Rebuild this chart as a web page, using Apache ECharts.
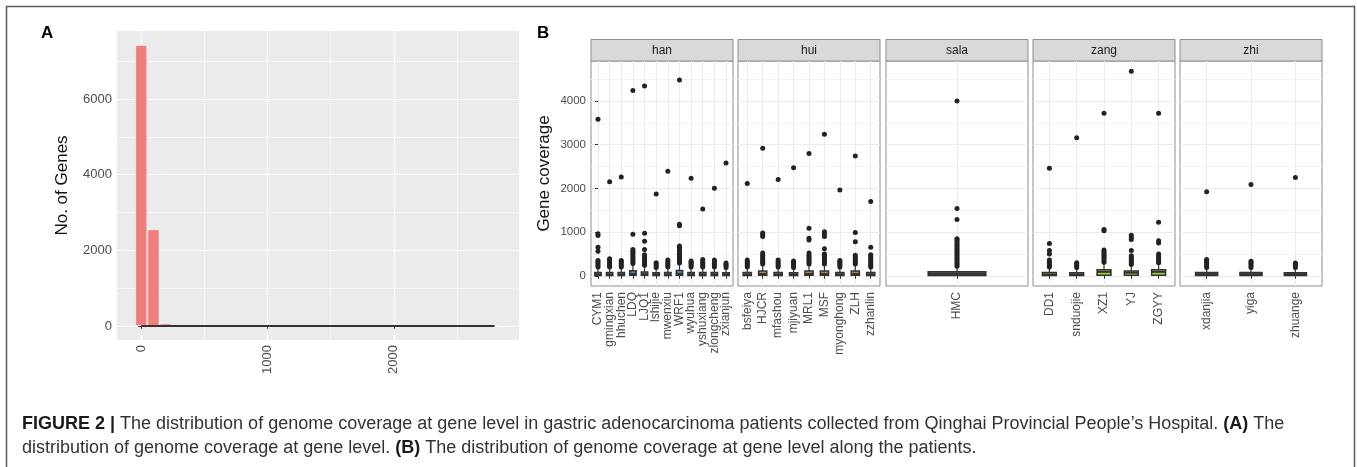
<!DOCTYPE html>
<html><head><meta charset="utf-8">
<script src="https://cdn.jsdelivr.net/npm/echarts@6.0.0/dist/echarts.min.js"></script>
<style>html,body{margin:0;padding:0;background:#fff;}#c{width:1357px;height:467px;}</style>
</head><body><div id="c"></div>
<script>
// ---------- Panel A: histogram ----------
const binCenters = [0, 96.5, 193, 289.5, 386, 482.5, 579, 675.5, 772, 868.5, 965, 1061.5, 1158, 1254.5, 1351,
  1447.5, 1544, 1640.5, 1737, 1833.5, 1930, 2026.5, 2123, 2219.5, 2316, 2412.5, 2509, 2605.5, 2702, 2798.5];
const binCounts = [7424, 2555, 70, 14, 6, 4, 3, 2, 2, 1, 1, 1, 1, 0, 1, 0, 0, 1, 0, 1, 0, 1, 0, 0, 0, 0, 0, 0, 0, 1];
const lineX = [0, 2798.5];
const lineY = [0, 0];
const histXTicks = [0, 1000, 2000];
const histXMinor = [500, 1500, 2500];
const histYTicks = [0, 2000, 4000, 6000];
const histYMinor = [1000, 3000, 5000, 7000];

// ---------- Panel B: boxplots ----------
const facets = ['han', 'hui', 'sala', 'zang', 'zhi'];
const covTicks = [0, 1000, 2000, 3000, 4000];
const covMinor = [500, 1500, 2500, 3500, 4500];

const hanSamples = ['CYM1', 'gmingxian', 'hhuchen', 'LDQ', 'LJQ1', 'lshijie', 'mwenxiu', 'WRF1', 'wyuhua', 'yshuxiang', 'zlongcheng', 'zxianjun'];
const hanBoxes = [[0, 8, 30, 75, 180], [0, 8, 30, 75, 170], [0, 8, 30, 75, 170], [0, 10, 40, 115, 250], [0, 10, 35, 85, 210], [0, 8, 30, 70, 160],
  [0, 8, 30, 75, 170], [0, 12, 45, 120, 260], [0, 8, 30, 75, 170], [0, 8, 30, 75, 170], [0, 8, 30, 75, 170], [0, 8, 30, 70, 160]];
const hanOutliers = [
  [200, 240, 280, 320, 350, 560, 650, 920, 960, 3580],
  [200, 240, 280, 320, 360, 390, 2150],
  [200, 240, 280, 320, 350, 2260],
  [280, 320, 360, 400, 440, 480, 520, 560, 600, 950, 4240],
  [240, 280, 320, 360, 400, 440, 480, 600, 790, 975, 4340],
  [190, 230, 270, 300, 1870],
  [200, 240, 280, 320, 360, 2390],
  [290, 330, 370, 410, 450, 490, 530, 570, 610, 650, 680, 1145, 1180, 4480],
  [200, 240, 280, 310, 340, 2230],
  [200, 240, 280, 320, 370, 1530],
  [200, 240, 280, 320, 360, 2000],
  [190, 230, 260, 290, 2580]];

const huiSamples = ['bsfeiya', 'HJCR', 'mfashou', 'mjiyuan', 'MRL1', 'MSF', 'myonghong', 'ZLH', 'zzhanlin'];
const huiBoxes = [[0, 8, 30, 75, 170], [0, 10, 40, 110, 240], [0, 8, 30, 75, 170], [0, 8, 30, 70, 160], [0, 10, 40, 110, 240],
  [0, 10, 40, 110, 240], [0, 8, 30, 75, 170], [0, 10, 40, 110, 240], [0, 8, 30, 75, 170]];
const huiOutliers = [
  [200, 240, 280, 320, 360, 2110],
  [270, 310, 350, 390, 430, 470, 520, 900, 940, 980, 2920],
  [200, 240, 280, 320, 360, 2200],
  [190, 230, 270, 310, 340, 2470],
  [270, 310, 350, 390, 430, 470, 520, 820, 860, 1090, 2800],
  [270, 310, 350, 390, 430, 470, 500, 616, 900, 960, 1010, 3240],
  [200, 240, 280, 320, 350, 1960],
  [270, 310, 350, 390, 430, 470, 780, 990, 2740],
  [200, 240, 280, 320, 360, 400, 440, 480, 650, 1700]];

const salaSamples = ['HMC'];
const salaBoxes = [[0, 5, 35, 90, 200]];
const salaOutliers = [
  [220, 260, 300, 340, 380, 420, 460, 500, 540, 580, 620, 660, 700, 740, 780, 820, 845, 1290, 1540, 4000]];

const zangSamples = ['DD1', 'snduojie', 'XZ1', 'YJ', 'ZGYY'];
const zangBoxes = [[0, 8, 30, 75, 170], [0, 8, 30, 70, 160], [0, 10, 90, 140, 280], [0, 10, 70, 110, 240], [0, 10, 90, 140, 280]];
const zangOutliers = [
  [200, 240, 280, 320, 360, 500, 580, 740, 2460],
  [190, 230, 270, 300, 3160],
  [310, 350, 390, 430, 470, 510, 550, 590, 1030, 1060, 3720],
  [260, 300, 340, 380, 420, 460, 580, 830, 880, 930, 4680],
  [300, 340, 380, 420, 460, 500, 750, 800, 1225, 3720]];

const zhiSamples = ['xdanjia', 'yiga', 'zhuange'];
const zhiBoxes = [[0, 8, 30, 75, 170], [0, 8, 30, 75, 170], [0, 8, 30, 70, 160]];
const zhiOutliers = [
  [190, 230, 270, 310, 350, 370, 1920],
  [190, 230, 270, 300, 330, 2090],
  [190, 230, 260, 290, 2250]];

const facetSamples = [hanSamples, huiSamples, salaSamples, zangSamples, zhiSamples];
const facetBoxes = [hanBoxes, huiBoxes, salaBoxes, zangBoxes, zhiBoxes];
const facetOutliers = [hanOutliers, huiOutliers, salaOutliers, zangOutliers, zhiOutliers];
const facetFill = ['#3F8FCB', '#B9803D', '#555555', '#9BD33A', '#555555'];

// ---------- layout ----------
const FONT = 'Liberation Sans, Arial, Helvetica, sans-serif';
const bLeft = [591, 738, 886, 1033, 1180];
const bWidth = 142, bTop = 61, bHeight = 225;
const stripTop = 39.5, stripH = 21.5;
const plain = v => String(v);

const grids = [{left: 117, top: 31, width: 402, height: 309, show: true, backgroundColor: '#EBEBEB', borderWidth: 0, outerBoundsMode: 'none'}];
bLeft.forEach(l => grids.push({left: l, top: bTop, width: bWidth, height: bHeight, show: true,
  backgroundColor: '#fff', borderColor: '#8c8c8c', borderWidth: 1, outerBoundsMode: 'none'}));

const tickStyle = {color: '#333', width: 1};
const xAxes = [
  {gridIndex: 0, type: 'value', min: -192, max: 2992, axisLine: {show: false},
   axisTick: {show: true, customValues: histXTicks, length: 3, lineStyle: tickStyle},
   axisLabel: {customValues: histXTicks, rotate: 90, fontSize: 13, color: '#4D4D4D', margin: 5, fontFamily: FONT,
     formatter: plain, showMinLabel: true, showMaxLabel: true, hideOverlap: false},
   splitLine: {show: true, lineStyle: {color: '#fff', width: 1.2}}},
  {gridIndex: 0, type: 'value', position: 'top', min: -192, max: 2992, axisLine: {show: false},
   axisTick: {show: false, customValues: histXMinor}, axisLabel: {show: false, customValues: histXMinor},
   splitLine: {show: true, lineStyle: {color: '#fff', width: 0.6}}}
];
const yAxes = [
  {gridIndex: 0, type: 'value', min: -371, max: 7795, axisLine: {show: false},
   axisTick: {show: true, customValues: histYTicks, length: 3, lineStyle: tickStyle},
   axisLabel: {customValues: histYTicks, fontSize: 13, color: '#4D4D4D', margin: 5, fontFamily: FONT,
     formatter: plain, showMinLabel: true, showMaxLabel: true, hideOverlap: false},
   splitLine: {show: true, lineStyle: {color: '#fff', width: 1.2}},
   name: 'No. of Genes', nameLocation: 'middle', nameGap: 46, nameMoveOverlap: false,
   nameTextStyle: {fontSize: 17, color: '#111', fontFamily: FONT}},
  {gridIndex: 0, type: 'value', position: 'right', min: -371, max: 7795, axisLine: {show: false},
   axisTick: {show: false, customValues: histYMinor}, axisLabel: {show: false, customValues: histYMinor},
   splitLine: {show: true, lineStyle: {color: '#fff', width: 0.6}}}
];

const series = [
  {type: 'bar', xAxisIndex: 0, yAxisIndex: 0, barWidth: '100%',
   data: binCenters.map((c, i) => [c, binCounts[i]]),
   itemStyle: {color: '#F27E7C', borderColor: 'rgba(255,255,255,0.55)', borderWidth: 1}, silent: true},
  {type: 'line', xAxisIndex: 0, yAxisIndex: 0, symbol: 'none', z: 5,
   data: lineX.map((x, i) => [x, lineY[i]]), lineStyle: {color: '#333', width: 2}, silent: true}
];

function renderBox(params, api) {
  const x = api.value(0);
  const lo = api.coord([x, api.value(1)]);
  const q1 = api.coord([x, api.value(2)]);
  const md = api.coord([x, api.value(3)]);
  const q3 = api.coord([x, api.value(4)]);
  const hi = api.coord([x, api.value(5)]);
  const unit = api.size([1, 0])[0];
  const hw = unit * 0.24 + 0.4;
  const cx = q1[0];
  const stroke = '#333';
  return {type: 'group', children: [
    {type: 'line', shape: {x1: cx, y1: lo[1], x2: cx, y2: q1[1]}, style: {stroke, lineWidth: 1.2}},
    {type: 'line', shape: {x1: cx, y1: q3[1], x2: cx, y2: hi[1]}, style: {stroke, lineWidth: 1.2}},
    {type: 'rect', shape: {x: cx - hw, y: q3[1], width: 2 * hw, height: q1[1] - q3[1]},
     style: {fill: api.visual('color'), stroke, lineWidth: 1.5}},
    {type: 'line', shape: {x1: cx - hw, y1: md[1], x2: cx + hw, y2: md[1]}, style: {stroke, lineWidth: 2}}
  ]};
}

const graphics = [
  {type: 'rect', shape: {x: 6.5, y: 6.5, width: 1348, height: 475}, style: {fill: 'none', stroke: '#5a5a5a', lineWidth: 1.5}, silent: true},
  {type: 'text', left: 41, top: 25, style: {text: 'A', font: 'bold 17px ' + FONT, fill: '#000'}},
  {type: 'text', left: 537, top: 25, style: {text: 'B', font: 'bold 17px ' + FONT, fill: '#000'}}
];

facets.forEach((f, i) => {
  const samples = facetSamples[i];
  const n = samples.length;
  const idx = samples.map((s, j) => j);
  // edge positions act as hidden min/max placeholders so that no sample label is dropped
  const withEdges = [-0.6].concat(idx, [n - 0.4]);
  xAxes.push({gridIndex: i + 1, type: 'value', min: -0.6, max: n - 0.4, axisLine: {show: false},
    axisTick: {show: true, customValues: withEdges, length: 3, lineStyle: tickStyle},
    axisLabel: {customValues: withEdges, rotate: 90, fontSize: 12, color: '#4D4D4D', margin: 6, fontFamily: FONT,
      showMinLabel: false, showMaxLabel: false, hideOverlap: false,
      formatter: v => (Number.isInteger(v) ? samples[v] : '')},
    splitLine: {show: false}});
  xAxes.push({gridIndex: i + 1, type: 'value', position: 'top', min: -0.6, max: n - 0.4, axisLine: {show: false},
    axisTick: {show: false, customValues: idx}, axisLabel: {show: false, customValues: idx},
    splitLine: {show: true, lineStyle: {color: '#EBEBEB', width: 1}}});
  const yMajor = {gridIndex: i + 1, type: 'value', min: -234, max: 4914, axisLine: {show: false},
    axisTick: {show: i === 0, customValues: covTicks, length: 3, lineStyle: tickStyle},
    axisLabel: {show: i === 0, customValues: covTicks, fontSize: 11.5, color: '#4D4D4D', margin: 5, fontFamily: FONT,
      formatter: plain, showMinLabel: true, showMaxLabel: true, hideOverlap: false},
    splitLine: {show: true, lineStyle: {color: '#EBEBEB', width: 1}}};
  if (i === 0) {
    Object.assign(yMajor, {name: 'Gene coverage', nameLocation: 'middle', nameGap: 38, nameMoveOverlap: false,
      nameTextStyle: {fontSize: 17, color: '#111', fontFamily: FONT}});
  }
  yAxes.push(yMajor);
  yAxes.push({gridIndex: i + 1, type: 'value', position: 'right', min: -234, max: 4914, axisLine: {show: false},
    axisTick: {show: false, customValues: covMinor}, axisLabel: {show: false, customValues: covMinor},
    splitLine: {show: true, lineStyle: {color: '#F3F3F3', width: 1}}});

  series.push({type: 'custom', xAxisIndex: 2 + 2 * i, yAxisIndex: 2 + 2 * i, renderItem: renderBox,
    itemStyle: {color: facetFill[i]}, encode: {x: 0, y: [1, 2, 3, 4, 5]}, z: 3, silent: true,
    data: facetBoxes[i].map((b, j) => [j].concat(b))});
  const pts = [];
  facetOutliers[i].forEach((vals, j) => vals.forEach(v => pts.push([j, v])));
  series.push({type: 'scatter', xAxisIndex: 2 + 2 * i, yAxisIndex: 2 + 2 * i, symbolSize: 5, z: 4, silent: true,
    itemStyle: {color: '#222', opacity: 1}, data: pts});

  graphics.push({type: 'rect', shape: {x: bLeft[i], y: stripTop, width: bWidth, height: stripH},
    style: {fill: '#D9D9D9', stroke: '#8c8c8c', lineWidth: 1}, silent: true});
  graphics.push({type: 'text', x: bLeft[i] + bWidth / 2, y: stripTop + stripH / 2 + 0.5,
    style: {text: f, font: '12px ' + FONT, fill: '#1A1A1A', align: 'center', verticalAlign: 'middle'}});
});

const CAP = 18;
const captionStyle = {fontSize: CAP, color: '#333', fontWeight: 'normal', fontFamily: FONT,
  rich: {b: {fontWeight: 'bold', color: '#1a1a1a', fontSize: CAP, fontFamily: FONT},
         n: {fontWeight: 'normal', color: '#333', fontSize: CAP, fontFamily: FONT}}};

const option = {
  animation: false,
  textStyle: {fontFamily: FONT},
  title: [
    {left: 22, top: 415, padding: 0, textStyle: captionStyle,
     text: '{b|FIGURE 2 |}{n| The distribution of genome coverage at gene level in gastric adenocarcinoma patients collected from Qinghai Provincial People\u2019s Hospital. }{b|(A)}{n| The}'},
    {left: 22, top: 439, padding: 0, textStyle: captionStyle,
     text: '{n|distribution of genome coverage at gene level. }{b|(B)}{n| The distribution of genome coverage at gene level along the patients.}'}
  ],
  grid: grids,
  xAxis: xAxes,
  yAxis: yAxes,
  series: series,
  graphic: graphics
};

const chart = echarts.init(document.getElementById('c'), null, {renderer: 'canvas'});
chart.setOption(option);
</script></body></html>
